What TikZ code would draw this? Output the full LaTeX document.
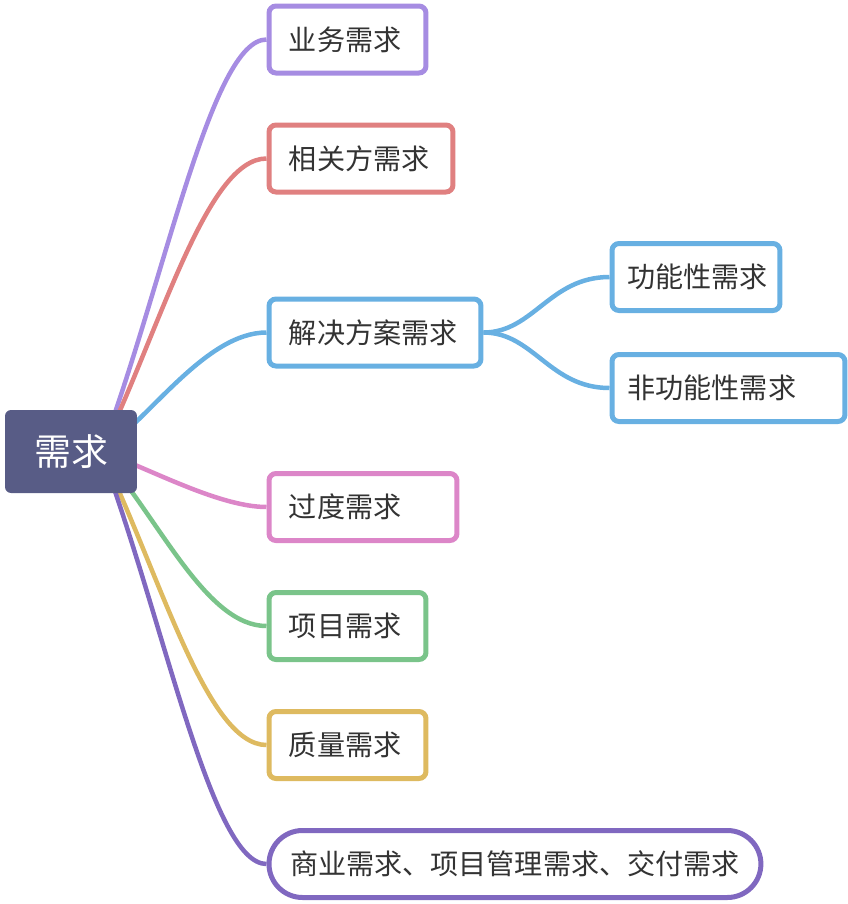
\documentclass[tikz,border=0pt]{standalone}
\usepackage{fontspec}
\setmainfont{Noto Sans CJK SC}
\usetikzlibrary{backgrounds}
\definecolor{rootfill}{HTML}{585C86}
\definecolor{textgray}{HTML}{333333}
\definecolor{cPurple}{HTML}{A68CE2}
\definecolor{cRed}{HTML}{E08080}
\definecolor{cBlue}{HTML}{68B0E2}
\definecolor{cPink}{HTML}{DC86C8}
\definecolor{cGreen}{HTML}{7AC48A}
\definecolor{cYellow}{HTML}{DEBA60}
\definecolor{cViolet}{HTML}{8068C0}
\tikzset{
  rootbox/.style={fill=rootfill, rounded corners=0.12cm, minimum width=2.64cm,
    minimum height=1.66cm, text=white, font=\fontsize{21}{25}\selectfont},
  leaf/.style={draw=#1, fill=white, line width=0.1cm, rounded corners=0.14cm,
    anchor=west, minimum height=1.34cm, inner xsep=0.4cm, align=left,
    text=textgray, font=\fontsize{16}{19}\selectfont},
  branch/.style={draw=#1, line width=0.09cm}
}
\begin{document}
\begin{tikzpicture}[x=0.02cm, y=-0.02cm]
		\useasboundingbox (0,0) rectangle (848,904);
		% root
			\node[rootbox] (root) at (71,451.5) {需求};
			\coordinate (o) at (101,452);
		% first level
			\node[leaf=cPurple, text width=2.34cm] (n1) at (266.5,39.5) {业务需求};
			\node[leaf=cRed, text width=2.88cm] (n2) at (266.5,158.5) {相关方需求};
			\node[leaf=cBlue, text width=3.44cm] (n3) at (266.5,332.5) {解决方案需求};
			\node[leaf=cPink, text width=2.96cm] (n4) at (266.5,507) {过度需求};
			\node[leaf=cGreen, text width=2.34cm] (n5) at (266.5,626) {项目需求};
			\node[leaf=cYellow, text width=2.34cm] (n6) at (266.5,745) {质量需求};
			\node[leaf=cViolet, rounded corners=0.67cm, align=center, inner xsep=0pt,
			      minimum width=9.84cm] (n7) at (266.5,864) {商业需求、项目管理需求、交付需求};
		% second level
			\node[leaf=cBlue, inner xsep=0.31cm, text width=2.74cm] (n31) at (609.5,277) {功能性需求};
			\node[leaf=cBlue, inner xsep=0.31cm, text width=4.04cm] (n32) at (609.5,388) {非功能性需求};
		% connectors
		\begin{scope}[on background layer]
			\draw[branch=cPurple] (o) .. controls +(64,-172) and +(-55,0) .. (n1.west);
			\draw[branch=cRed] (o) .. controls +(59,-122) and +(-60,0) .. (n2.west);
			\draw[branch=cBlue] (o) .. controls +(50,-35) and +(-60,0) .. (n3.west);
			\draw[branch=cPink] (o) .. controls +(40,12) and +(-50,0) .. (n4.west);
			\draw[branch=cGreen] (o) .. controls +(60,70) and +(-60,0) .. (n5.west);
			\draw[branch=cYellow] (o) .. controls +(59,122) and +(-60,0) .. (n6.west);
			\draw[branch=cViolet] (o) .. controls +(64,172) and +(-55,0) .. (n7.west);
			\draw[branch=cBlue] (n3.east) .. controls +(50,0) and +(-60,0) .. (n31.west);
			\draw[branch=cBlue] (n3.east) .. controls +(50,0) and +(-60,0) .. (n32.west);
		\end{scope}
\end{tikzpicture}
\end{document}
